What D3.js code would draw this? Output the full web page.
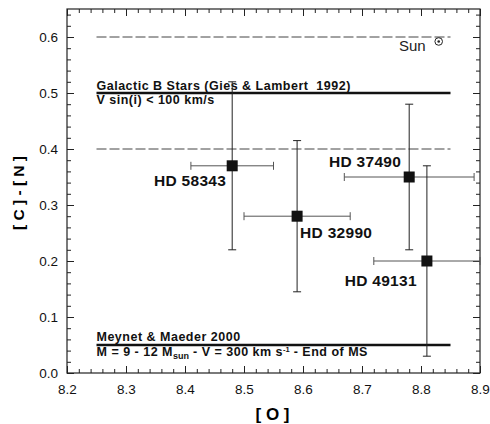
<!DOCTYPE html>
<html>
<head>
<meta charset="utf-8">
<script src="https://d3js.org/d3.v7.min.js"></script>
<style>
  body { margin: 0; background: #fff; }
  svg { font-family: "Liberation Sans", Arial, sans-serif; }
</style>
</head>
<body>
<script>
// star data: [O] abundance and [C]-[N], with error ranges
const stars = ["HD 58343", "HD 32990", "HD 37490", "HD 49131"];
const oVal = [8.48, 8.59, 8.78, 8.81];
const oLo = [8.41, 8.50, 8.67, 8.72];
const oHi = [8.55, 8.68, 8.89, 8.90];
const cnVal = [0.37, 0.28, 0.35, 0.20];
const cnLo = [0.22, 0.145, 0.22, 0.03];
const cnHi = [0.52, 0.415, 0.48, 0.37];

// reference levels
const refLevels = [0.6, 0.4];        // dashed
const modelLevels = [0.5, 0.05];     // thick solid
const refStart = 8.25, refEnd = 8.85;
const sunO = 8.83, sunCN = 0.592;

// ticks
const xTicks = [8.2, 8.3, 8.4, 8.5, 8.6, 8.7, 8.8, 8.9];
const yTicks = [0.0, 0.1, 0.2, 0.3, 0.4, 0.5, 0.6];

const W = 490, H = 424;
const margin = { top: 9, right: 10, bottom: 51, left: 67 };
const width = W - margin.left - margin.right;
const height = H - margin.top - margin.bottom;

const svg = d3.select("body").append("svg")
    .attr("width", W).attr("height", H);
const g = svg.append("g").attr("transform", `translate(${margin.left},${margin.top})`);

const x = d3.scaleLinear().domain([8.2, 8.9]).range([0, width]);
const y = d3.scaleLinear().domain([0, 0.65]).range([height, 0]);

const xMinor = d3.range(8.2, 8.9001, 0.02).map(d => +d.toFixed(2));
const yMinor = d3.range(0, 0.6401, 0.02).map(d => +d.toFixed(2));

// minor ticks on all sides
function minor(axis, vals) {
    return axis.tickValues(vals).tickSize(-4).tickFormat("");
}
g.append("g").attr("transform", `translate(0,${height})`).call(minor(d3.axisBottom(x), xMinor));
g.append("g").call(minor(d3.axisTop(x), xMinor));
g.append("g").call(minor(d3.axisLeft(y), yMinor));
g.append("g").attr("transform", `translate(${width},0)`).call(minor(d3.axisRight(y), yMinor));

// major ticks
g.append("g").attr("class", "xax").attr("transform", `translate(0,${height})`)
    .call(d3.axisBottom(x).tickValues(xTicks).tickSize(-7).tickPadding(11).tickFormat(d3.format(".1f")));
g.append("g").call(d3.axisTop(x).tickValues(xTicks).tickSize(-7).tickFormat(""));
g.append("g").attr("class", "yax")
    .call(d3.axisLeft(y).tickValues(yTicks).tickSize(-7).tickPadding(9).tickFormat(d3.format(".1f")));
g.append("g").attr("transform", `translate(${width},0)`)
    .call(d3.axisRight(y).tickValues(yTicks).tickSize(-7).tickFormat(""));

g.selectAll(".domain").remove();
g.selectAll(".tick line").attr("stroke", "#222").attr("stroke-width", 1);
g.selectAll(".xax text, .yax text").attr("font-size", 13.5).attr("fill", "#111")
    .attr("font-family", "Liberation Sans, Arial, sans-serif");

// frame
g.append("rect").attr("width", width).attr("height", height)
    .attr("fill", "none").attr("stroke", "#222").attr("stroke-width", 1.2);

// dashed reference lines
g.selectAll(".ref").data(refLevels).enter().append("line")
    .attr("x1", x(refStart)).attr("x2", x(refEnd))
    .attr("y1", d => y(d)).attr("y2", d => y(d))
    .attr("stroke", "#444").attr("stroke-width", 1)
    .attr("stroke-dasharray", "10,3");

// thick model lines
g.selectAll(".model").data(modelLevels).enter().append("line")
    .attr("x1", x(refStart)).attr("x2", x(refEnd))
    .attr("y1", d => y(d)).attr("y2", d => y(d))
    .attr("stroke", "#111").attr("stroke-width", 2.5);

// line annotations
const ann = g.append("g").attr("font-weight", "bold").attr("font-size", 12.5)
    .attr("letter-spacing", 0.5).attr("fill", "#111");
ann.append("text").attr("x", x(refStart)).attr("y", y(0.5) - 3)
    .text("Galactic B Stars (Gies & Lambert\u00a0 1992)");
ann.append("text").attr("x", x(refStart)).attr("y", y(0.5) + 11)
    .text("V sin(i) < 100 km/s");
ann.append("text").attr("x", x(refStart)).attr("y", y(0.05) - 4)
    .text("Meynet & Maeder 2000");
const mm = ann.append("text").attr("x", x(refStart)).attr("y", y(0.05) + 11);
mm.append("tspan").text("M = 9 - 12 M");
mm.append("tspan").attr("font-size", 9).attr("letter-spacing", 0).attr("dy", 3).text("sun");
mm.append("tspan").attr("dy", -3).text(" - V = 300 km s");
mm.append("tspan").attr("font-size", 7.5).attr("letter-spacing", 0).attr("dy", -4).text("-1");
mm.append("tspan").attr("dy", 4).text(" - End of MS");

// Sun
g.append("circle").attr("cx", x(sunO)).attr("cy", y(sunCN)).attr("r", 3.8)
    .attr("fill", "#fff").attr("stroke", "#222").attr("stroke-width", 1);
g.append("circle").attr("cx", x(sunO)).attr("cy", y(sunCN)).attr("r", 1.3).attr("fill", "#222");
g.append("text").attr("x", x(sunO) - 13).attr("y", y(sunCN) + 10)
    .attr("text-anchor", "end").attr("font-size", 15).attr("fill", "#222").text("Sun");

// error bars
const idx = d3.range(stars.length);
const cap = 4;
const eb = g.append("g");
idx.forEach(i => {
    const cx = x(oVal[i]), cy = y(cnVal[i]);
    // vertical
    eb.append("line").attr("x1", cx).attr("x2", cx).attr("y1", y(cnLo[i])).attr("y2", y(cnHi[i]))
        .attr("stroke", "#222").attr("stroke-width", 1);
    [cnLo[i], cnHi[i]].forEach(v => eb.append("line")
        .attr("x1", cx - cap).attr("x2", cx + cap).attr("y1", y(v)).attr("y2", y(v))
        .attr("stroke", "#222").attr("stroke-width", 1));
    // horizontal
    eb.append("line").attr("x1", x(oLo[i])).attr("x2", x(oHi[i])).attr("y1", cy).attr("y2", cy)
        .attr("stroke", "#555").attr("stroke-width", 1);
    [oLo[i], oHi[i]].forEach(v => eb.append("line")
        .attr("x1", x(v)).attr("x2", x(v)).attr("y1", cy - cap).attr("y2", cy + cap)
        .attr("stroke", "#555").attr("stroke-width", 1));
});

// markers
g.selectAll(".pt").data(idx).enter().append("rect")
    .attr("x", i => x(oVal[i]) - 5.5).attr("y", i => y(cnVal[i]) - 5.5)
    .attr("width", 11).attr("height", 11).attr("fill", "#111");

// star labels
const labelPos = [
    { dx: -6, dy: 20, anchor: "end" },
    { dx: 3, dy: 22, anchor: "start" },
    { dx: -8, dy: -10, anchor: "end" },
    { dx: -10, dy: 25, anchor: "end" }
];
g.selectAll(".lbl").data(idx).enter().append("text")
    .attr("x", i => x(oVal[i]) + labelPos[i].dx)
    .attr("y", i => y(cnVal[i]) + labelPos[i].dy)
    .attr("text-anchor", i => labelPos[i].anchor)
    .attr("font-weight", "bold").attr("font-size", 15.5).attr("letter-spacing", 0.3)
    .attr("fill", "#111")
    .text(i => stars[i]);

// axis titles
svg.append("text").attr("x", margin.left + width / 2 - 1).attr("y", 420)
    .attr("text-anchor", "middle").attr("font-weight", "bold").attr("font-size", 17)
    .text("[ O ]");
svg.append("text").attr("transform", "translate(24,193) rotate(-90)")
    .attr("text-anchor", "middle").attr("font-weight", "bold").attr("font-size", 15.5)
    .text("[ C ] - [ N ]");
</script>
</body>
</html>
